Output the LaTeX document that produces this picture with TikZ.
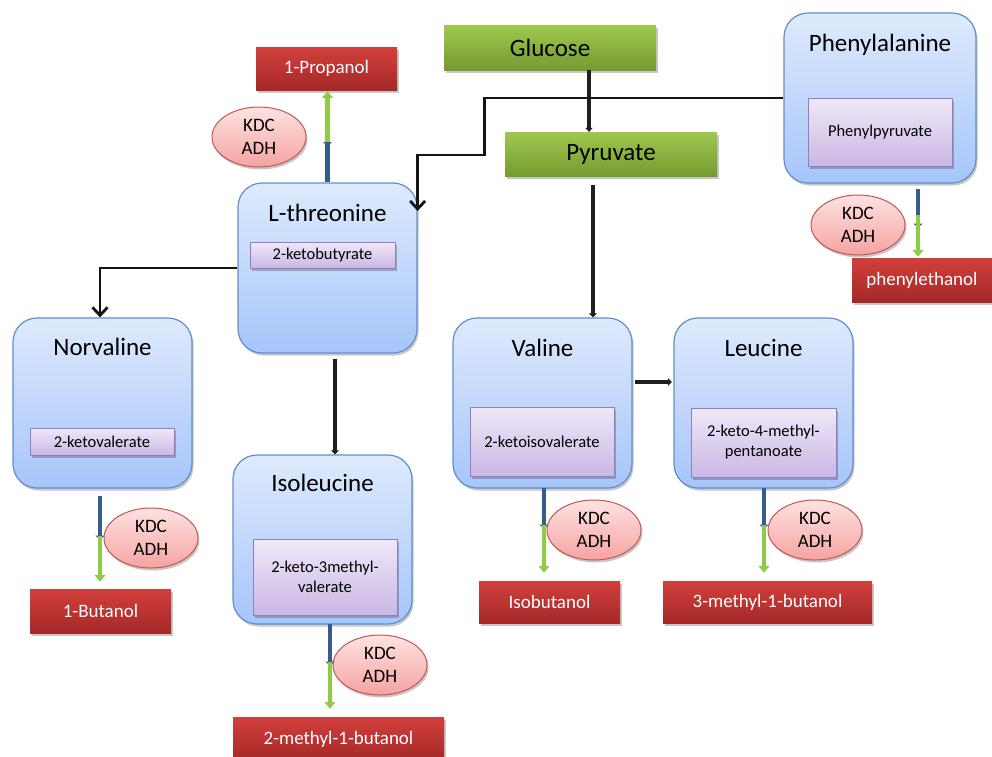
\documentclass[tikz,border=0pt]{standalone}
\usepackage{fontspec}
\setmainfont{Carlito}
\usetikzlibrary{arrows.meta,shadows,shapes.geometric,calc}

\definecolor{boxline}{RGB}{98,142,205}
\definecolor{boxtop}{RGB}{222,234,253}
\definecolor{boxbot}{RGB}{166,197,250}
\definecolor{ketoline}{RGB}{150,124,186}
\definecolor{ketotop}{RGB}{240,232,248}
\definecolor{ketobot}{RGB}{202,183,228}
\definecolor{greentop}{RGB}{160,200,78}
\definecolor{greenbot}{RGB}{117,154,48}
\definecolor{redtop}{RGB}{210,64,60}
\definecolor{redbot}{RGB}{164,40,40}
\definecolor{enzline}{RGB}{196,86,84}
\definecolor{enztop}{RGB}{253,226,225}
\definecolor{enzbot}{RGB}{245,164,162}
\definecolor{kdcblue}{RGB}{54,92,142}
\definecolor{alcgreen}{RGB}{142,204,72}

\tikzset{
  softshadow/.style={drop shadow={shadow xshift=1.5pt,shadow yshift=-2.5pt,opacity=0.22,fill=black}},
  aabox/.style={draw=boxline,line width=1.2pt,rounded corners=24pt,
    top color=boxtop,bottom color=boxbot,inner sep=0pt,softshadow},
  aatitle/.style={font=\fontsize{25}{28}\selectfont,inner sep=0pt,anchor=base},
  keto/.style={draw=ketoline,line width=1pt,top color=ketotop,bottom color=ketobot,
    inner sep=0pt,align=center,font=\fontsize{16.5}{20}\selectfont,softshadow},
  sugar/.style={top color=greentop,bottom color=greenbot,inner sep=0pt,
    font=\fontsize{25}{28}\selectfont,softshadow},
  alcohol/.style={top color=redtop,bottom color=redbot,text=white,inner sep=0pt,
    font=\fontsize{19}{22}\selectfont,softshadow},
  enzyme/.style={ellipse,draw=enzline,line width=1pt,top color=enztop,bottom color=enzbot,
    inner sep=0pt,minimum width=94pt,minimum height=60pt,softshadow},
  enztext/.style={align=center,inner sep=0pt,font=\fontsize{19}{23}\selectfont},
  flow/.style={draw=black!88,line width=3.5pt,-{Triangle[length=4pt,width=7.5pt]}},
  bendarrow/.style={draw=black!92,line width=2.8pt,-{Straight Barb[length=8pt,width=15pt]}},
  ketoarrow/.style={draw=kdcblue,line width=4.5pt,-{Triangle[length=4pt,width=9pt]}},
  alcarrow/.style={draw=alcgreen,line width=4.5pt,-{Triangle[length=7pt,width=11pt]}},
}

\begin{document}
\begin{tikzpicture}[x=1pt,y=-1pt]
\useasboundingbox (0,0) rectangle (992,756);

% sugars
\node[sugar,minimum width=212pt,minimum height=45pt] (glu) at (550,47.5) {Glucose};
\node[sugar,minimum width=212pt,minimum height=44pt] (pyr) at (611,154) {Pyruvate};

% amino acid boxes
\node[aabox,minimum width=179pt,minimum height=170pt] (thr) at (327.5,268) {};
\node[aabox,minimum width=179pt,minimum height=170pt] (nor) at (102.5,403) {};
\node[aabox,minimum width=179pt,minimum height=169pt] (ile) at (322.5,539.5) {};
\node[aabox,minimum width=179pt,minimum height=170pt] (val) at (542.5,403) {};
\node[aabox,minimum width=179pt,minimum height=170pt] (leu) at (763.5,403) {};
\node[aabox,minimum width=192pt,minimum height=170pt] (phe) at (880,98) {};

\node[aatitle] (thrT) at (327.5,221) {L-threonine};
\node[aatitle] (norT) at (102.5,355) {Norvaline};
\node[aatitle] (ileT) at (322.5,491) {Isoleucine};
\node[aatitle] (valT) at (542.5,356) {Valine};
\node[aatitle] (leuT) at (763.5,356) {Leucine};
\node[aatitle] (pheT) at (880,51) {Phenylalanine};

% keto acids
\node[keto,minimum width=145pt,minimum height=26pt] (thrK) at (322.5,255) {2-ketobutyrate};
\node[keto,minimum width=144pt,minimum height=27pt] (norK) at (102,441.5) {2-ketovalerate};
\node[keto,minimum width=144pt,minimum height=76pt] (ileK) at (325,577) {2-keto-3methyl-\\valerate};
\node[keto,minimum width=144pt,minimum height=69pt] (valK) at (542,441.5) {2-ketoisovalerate};
\node[keto,minimum width=145pt,minimum height=69pt] (leuK) at (763.5,442.5) {2-keto-4-methyl-\\pentanoate};
\node[keto,minimum width=144pt,minimum height=68pt] (pheK) at (880,132) {Phenylpyruvate};

% alcohols
\node[alcohol,minimum width=141pt,minimum height=43pt] (prop) at (326.5,68.5) {1-Propanol};
\node[alcohol,minimum width=141pt,minimum height=44pt] (butl) at (100.5,611) {1-Butanol};
\node[alcohol,minimum width=211pt,minimum height=44pt] (mbut) at (338.5,739) {2-methyl-1-butanol};
\node[alcohol,minimum width=141pt,minimum height=42pt] (isob) at (549.5,602) {Isobutanol};
\node[alcohol,minimum width=209pt,minimum height=42pt] (mb3) at (767.5,602) {3-methyl-1-butanol};
\node[alcohol,minimum width=140pt,minimum height=44pt] (phet) at (922,280) {phenylethanol};

% enzymes
\foreach \n/\x/\y in {eprop/259/137, ebut/151/538, eile/380/665, eval/594/530, eleu/815/530, ephe/858/225}{
  \node[enzyme] (\n) at (\x,\y) {};
  \node[enztext] (\n T) at (\n) {KDC\\ADH};
}

% main pathway connectors
\draw[flow] ($(glu.south)+(39,0)$) -- ($(pyr.north)+(-22,0)$);
\draw[flow] ($(pyr.south)+(-18,9)$) coordinate (pv) -- (pv |- val.north);
\draw[flow] ($(thr.south)+(7.5,5)$) -- ($(ile.north)+(12.5,0)$);
\draw[flow,shorten >=1.5pt] ($(val.east)+(2,-21)$) coordinate (vl) -- (vl -| leu.west);
\draw[bendarrow] (thr.west) -| ($(nor.north)+(-2.5,0)$);
\draw[bendarrow] (phe.west) -| ($(pyr.west)+(-20,1)$) -| ($(thr.east)+(0,-57)$);

% keto acid -> alcohol steps (KDC, ADH)
\draw[ketoarrow] (thr.north) -- ++(0,-43) coordinate (thrM);
\draw[alcarrow,shorten >=1pt] ($(thrM)+(0,3)$) coordinate (thrG) -- (thrG |- prop.south);

\draw[ketoarrow] ($(nor.south)+(-2.5,7)$) -- ++(0,44) coordinate (norM);
\draw[alcarrow,shorten >=7pt] ($(norM)+(0,-4)$) coordinate (norG) -- (norG |- butl.north);

\draw[ketoarrow] ($(ile.south)+(7.5,-1)$) -- ++(0,42) coordinate (ileM);
\draw[alcarrow,shorten >=8pt] ($(ileM)+(0,-4)$) coordinate (ileG) -- (ileG |- mbut.north);

\draw[ketoarrow] ($(val.south)+(1.5,-1)$) -- ++(0,41) coordinate (valM);
\draw[alcarrow,shorten >=8pt] ($(valM)+(0,-4)$) coordinate (valG) -- (valG |- isob.north);

\draw[ketoarrow] ($(leu.south)+(0.5,-1)$) -- ++(0,41) coordinate (leuM);
\draw[alcarrow,shorten >=8pt] ($(leuM)+(0,-4)$) coordinate (leuG) -- (leuG |- mb3.north);

\draw[ketoarrow] ($(phe.south)+(38,5)$) -- ++(0,39) coordinate (pheM);
\draw[alcarrow,shorten >=1pt] ($(pheM)+(0,-13)$) coordinate (pheG) -- (pheG |- phet.north);
\end{tikzpicture}
\end{document}
